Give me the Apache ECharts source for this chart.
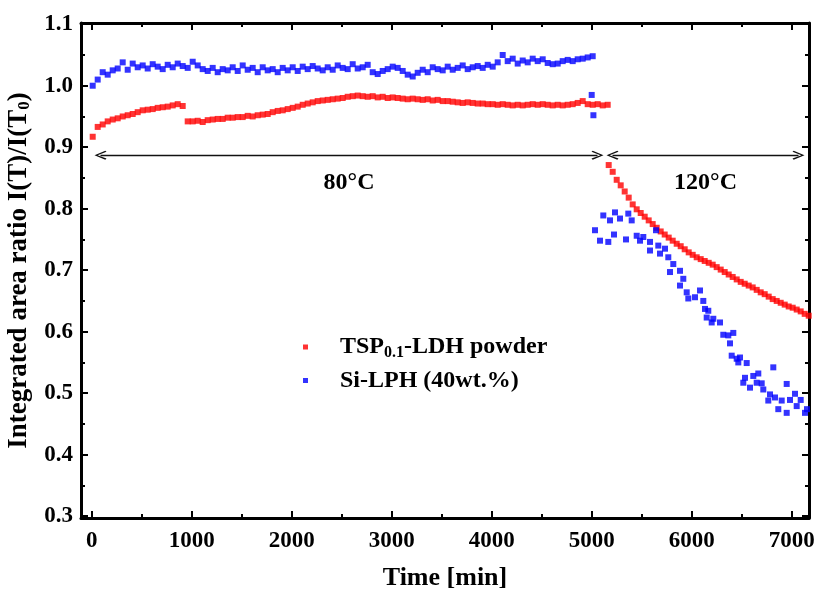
<!DOCTYPE html>
<html>
<head>
<meta charset="utf-8">
<script src="https://cdn.jsdelivr.net/npm/echarts@6/dist/echarts.min.js"></script>
<style>
  html, body { margin: 0; padding: 0; background: #ffffff; }
  #chart { width: 814px; height: 589px; }
</style>
</head>
<body>
<div id="chart"></div>
<script>
const FONT = '"Liberation Serif", "Times New Roman", serif';

const POWDER = 'TSP0.1-LDH powder';
const FILM = 'Si-LPH (40wt.%)';

// 80 °C stage: one reading every 50 min, first one at t = 10 min
const stage80Start = 10;
const stage80Step = 50;

const powder80 = [
  0.917, 0.933, 0.937, 0.942, 0.945, 0.947, 0.950, 0.952, 0.954, 0.957,
  0.960, 0.961, 0.962, 0.964, 0.965, 0.966, 0.968, 0.970, 0.967, 0.942,
  0.942, 0.943, 0.941, 0.944, 0.945, 0.946, 0.946, 0.948, 0.948, 0.949,
  0.949, 0.951, 0.950, 0.952, 0.953, 0.954, 0.957, 0.959, 0.960, 0.962,
  0.964, 0.966, 0.969, 0.971, 0.973, 0.975, 0.976, 0.977, 0.978, 0.979,
  0.980, 0.982, 0.983, 0.984, 0.983, 0.982, 0.983, 0.981, 0.982, 0.980,
  0.981, 0.980, 0.979, 0.978, 0.979, 0.978, 0.977, 0.978, 0.976, 0.977,
  0.975, 0.975, 0.974, 0.973, 0.972, 0.973, 0.972, 0.971, 0.971, 0.970,
  0.970, 0.969, 0.970, 0.969, 0.968, 0.969, 0.968, 0.969, 0.970, 0.969,
  0.970, 0.969, 0.968, 0.969, 0.968, 0.969, 0.970, 0.972, 0.975, 0.970,
  0.969, 0.970, 0.968, 0.969
];

const film80 = [
  1.000, 1.010, 1.022, 1.018, 1.025, 1.028, 1.038, 1.026, 1.036, 1.030,
  1.033, 1.028, 1.035, 1.031, 1.027, 1.034, 1.030, 1.036, 1.032, 1.029,
  1.039, 1.033, 1.027, 1.024, 1.029, 1.022, 1.027, 1.025, 1.030, 1.024,
  1.033, 1.026, 1.029, 1.022, 1.030, 1.025, 1.027, 1.022, 1.029, 1.025,
  1.030, 1.024, 1.031, 1.027, 1.032, 1.028, 1.025, 1.030, 1.026, 1.033,
  1.029, 1.027, 1.035, 1.028, 1.030, 1.034, 1.022, 1.019, 1.024, 1.027,
  1.031, 1.029, 1.024, 1.018, 1.015, 1.021, 1.026, 1.022, 1.030, 1.027,
  1.025, 1.031, 1.026, 1.029, 1.033, 1.027, 1.030, 1.032, 1.029, 1.034,
  1.031, 1.038, 1.050, 1.040, 1.044, 1.036, 1.041, 1.038, 1.044, 1.040,
  1.043, 1.037, 1.035, 1.036, 1.040, 1.042, 1.040, 1.043, 1.044, 1.046,
  1.048
];

// 120 °C stage: [time (min), I(T)/I(T0)]
const powder120 = [
  [5170, 0.871], [5210, 0.860], [5250, 0.847], [5290, 0.838], [5330, 0.828],
  [5370, 0.818], [5410, 0.807], [5450, 0.799], [5490, 0.793], [5530, 0.787],
  [5570, 0.781], [5610, 0.775], [5650, 0.769], [5690, 0.763], [5730, 0.758],
  [5770, 0.753], [5810, 0.748], [5850, 0.743], [5890, 0.739], [5930, 0.734],
  [5970, 0.729], [6010, 0.725], [6050, 0.721], [6090, 0.718], [6130, 0.715],
  [6170, 0.712], [6210, 0.709], [6250, 0.705], [6290, 0.701], [6330, 0.697],
  [6370, 0.693], [6410, 0.689], [6450, 0.685], [6490, 0.681], [6530, 0.678],
  [6570, 0.675], [6610, 0.672], [6650, 0.668], [6690, 0.664], [6730, 0.661],
  [6770, 0.657], [6810, 0.653], [6850, 0.650], [6890, 0.647], [6930, 0.644],
  [6970, 0.641], [7010, 0.639], [7050, 0.636], [7090, 0.633], [7130, 0.629],
  [7170, 0.626]
];

const film120 = [
  [5000, 0.985], [5017, 0.952], [5033, 0.765], [5083, 0.748], [5116, 0.789],
  [5166, 0.746], [5183, 0.781], [5223, 0.758], [5233, 0.794], [5283, 0.784],
  [5343, 0.750], [5366, 0.792], [5400, 0.781], [5450, 0.756], [5483, 0.748],
  [5516, 0.754], [5583, 0.746], [5583, 0.732], [5643, 0.765], [5666, 0.740],
  [5683, 0.727], [5733, 0.735], [5766, 0.721], [5783, 0.697], [5816, 0.710],
  [5883, 0.699], [5883, 0.675], [5916, 0.686], [5950, 0.664], [5966, 0.654],
  [6033, 0.656], [6083, 0.667], [6116, 0.650], [6133, 0.637], [6150, 0.623],
  [6166, 0.634], [6200, 0.615], [6216, 0.621], [6283, 0.615], [6316, 0.595],
  [6366, 0.594], [6383, 0.581], [6400, 0.561], [6416, 0.598], [6450, 0.556],
  [6466, 0.550], [6483, 0.558], [6516, 0.517], [6533, 0.525], [6550, 0.549],
  [6583, 0.509], [6616, 0.528], [6650, 0.517], [6666, 0.532], [6700, 0.516],
  [6716, 0.506], [6766, 0.488], [6783, 0.498], [6816, 0.542], [6833, 0.493],
  [6866, 0.474], [6900, 0.488], [6950, 0.468], [6950, 0.515], [6983, 0.489],
  [7033, 0.499], [7050, 0.479], [7090, 0.489], [7133, 0.468], [7153, 0.474]
];

// axis scales and tick positions
const xRange = [-107, 7173];
const yRange = [0.297, 1.102];
const xMajorTicks = [0, 1000, 2000, 3000, 4000, 5000, 6000, 7000];
const xMinorTicks = [500, 1500, 2500, 3500, 4500, 5500, 6500];
const yMajorTicks = [0.3, 0.4, 0.5, 0.6, 0.7, 0.8, 0.9, 1.0, 1.1];
const yMinorTicks = [0.35, 0.45, 0.55, 0.65, 0.75, 0.85, 0.95, 1.05];

// temperature stages drawn as double arrows: [from, to, level, label]
const stages = [
  [88, 5058, 0.887, '80°C'],
  [5208, 7068, 0.887, '120°C']
];

function withStage80(values) {
  return values.map((v, i) => [stage80Start + i * stage80Step, v]);
}

const powderData = withStage80(powder80).concat(powder120);
const filmData = withStage80(film80).concat(film120);

const labelText = {
  color: '#000', fontFamily: FONT, fontWeight: 'bold', fontSize: 23
};

function xAxisDef(position, ticks, len, main) {
  return {
    type: 'value', position: position,
    min: xRange[0], max: xRange[1],
    splitLine: { show: false },
    axisLine: { show: main, onZero: false, lineStyle: { color: '#000', width: 3 } },
    axisTick: {
      show: true, inside: true, length: len, customValues: ticks,
      lineStyle: { color: '#000', width: 2 }
    },
    axisLabel: {
      show: main && position === 'bottom', customValues: xMajorTicks, margin: 12,
      formatter: v => String(Math.round(v)),
      ...labelText
    }
  };
}

function yAxisDef(position, ticks, len, main) {
  return {
    type: 'value', position: position,
    min: yRange[0], max: yRange[1],
    splitLine: { show: false },
    axisLine: { show: main, onZero: false, lineStyle: { color: '#000', width: 3 } },
    axisTick: {
      show: true, inside: true, length: len, customValues: ticks,
      lineStyle: { color: '#000', width: 2 }
    },
    axisLabel: {
      show: main && position === 'left', customValues: yMajorTicks, margin: 8,
      formatter: v => v.toFixed(1),
      ...labelText
    }
  };
}

const xAxes = [
  xAxisDef('bottom', xMajorTicks, 7, true),
  xAxisDef('bottom', xMinorTicks, 4, false),
  xAxisDef('top', xMajorTicks, 7, true),
  xAxisDef('top', xMinorTicks, 4, false)
];
Object.assign(xAxes[0], {
  name: 'Time [min]', nameLocation: 'middle', nameGap: 47,
  nameTextStyle: { color: '#000', fontFamily: FONT, fontWeight: 'bold', fontSize: 26 }
});

const yAxes = [
  yAxisDef('left', yMajorTicks, 7, true),
  yAxisDef('left', yMinorTicks, 4, false),
  yAxisDef('right', yMajorTicks, 7, true),
  yAxisDef('right', yMinorTicks, 4, false)
];
Object.assign(yAxes[0], {
  name: '{m|Integrated area ratio I(T)/I(T}{s|0}{m|)}',
  nameLocation: 'middle', nameRotate: 90, nameGap: 38,
  nameTextStyle: {
    rich: {
      m: { color: '#000', fontFamily: FONT, fontWeight: 'bold', fontSize: 27 },
      s: { color: '#000', fontFamily: FONT, fontWeight: 'bold', fontSize: 17, padding: [12, 0, 0, 0] }
    }
  }
});

const arrowHead = 'path://M5 0 L10 9 L8.8 10 L5 2.6 L1.2 10 L0 9 Z';

const chart = echarts.init(document.getElementById('chart'), null, { renderer: 'canvas' });

chart.setOption({
  animation: false,
  backgroundColor: '#ffffff',
  grid: { left: 81, right: 5, top: 23, bottom: 71, containLabel: false, outerBoundsMode: 'none' },
  xAxis: xAxes,
  yAxis: yAxes,
  legend: {
    orient: 'vertical', left: 298, top: 330, itemGap: 8,
    itemWidth: 5, itemHeight: 5, icon: 'rect',
    data: [POWDER, FILM],
    formatter: name => name === POWDER
      ? '{g|}{m|TSP}{s|0.1}{m|-LDH powder}'
      : '{g|}{m|Si-LPH (40wt.%)}',
    textStyle: {
      rich: {
        g: { width: 27 },
        m: { color: '#000', fontFamily: FONT, fontWeight: 'bold', fontSize: 24 },
        s: { color: '#000', fontFamily: FONT, fontWeight: 'bold', fontSize: 16, padding: [11, 0, 0, 0] }
      }
    }
  },
  series: [
    {
      name: POWDER, type: 'scatter', symbol: 'rect', symbolSize: 6,
      xAxisIndex: 0, yAxisIndex: 0,
      itemStyle: { color: '#ff0000' },
      data: powderData,
      markLine: {
        silent: true,
        symbol: [arrowHead, arrowHead],
        symbolSize: [9, 12],
        lineStyle: { color: '#111', width: 1.3, type: 'solid' },
        emphasis: { disabled: true },
        label: {
          show: true, position: 'insideMiddleBottom', distance: 16,
          formatter: '{b}', color: '#000', fontFamily: FONT, fontWeight: 'bold', fontSize: 24
        },
        data: stages.map(s => [
          { name: s[3], coord: [s[0], s[2]] },
          { coord: [s[1], s[2]] }
        ])
      }
    },
    {
      name: FILM, type: 'scatter', symbol: 'rect', symbolSize: 6,
      xAxisIndex: 0, yAxisIndex: 0,
      itemStyle: { color: '#0000ff' },
      data: filmData
    }
  ]
});
</script>
</body>
</html>
